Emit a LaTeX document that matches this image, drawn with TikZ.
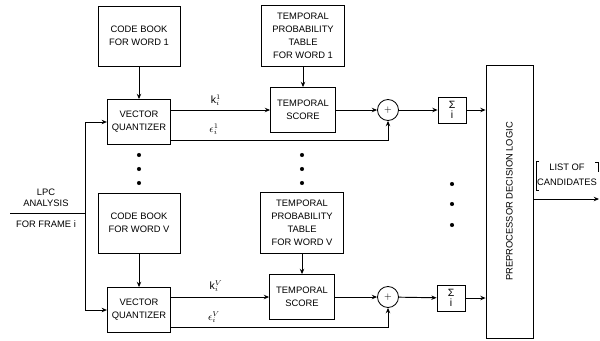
\documentclass[tikz,border=0pt]{standalone}
\usepackage{fontspec}
\setmainfont{Liberation Sans}
\usetikzlibrary{arrows.meta,positioning}

\begin{document}
\begin{tikzpicture}[x=0.03cm,y=-0.03cm,
  font=\fontsize{8}{11}\selectfont,
  >={Stealth[length=4.5pt,width=3.8pt]},
  line width=0.8pt,
  box/.style={draw,line width=0.7pt,inner sep=0pt,align=center},
  cbook/.style={box,minimum width=2.46cm,minimum height=1.8cm},
  quant/.style={box,minimum width=1.9cm,minimum height=1.35cm},
  tptab/.style={box,minimum width=2.49cm,minimum height=1.83cm},
  tscore/.style={box,minimum width=1.95cm,minimum height=1.35cm},
  adder/.style={draw,line width=0.7pt,circle,minimum size=0.63cm,inner sep=0pt},
  sumbox/.style={box,minimum width=0.84cm,minimum height=0.78cm,
                 font=\fontsize{9}{9}\selectfont},
  lbl/.style={inner sep=1pt,font=\fontsize{9}{10}\selectfont},
  dot/.style={circle,fill,inner sep=0pt,minimum size=3.5pt}]

  \useasboundingbox (0,0) rectangle (600,340);

  % word 1 branch
  \node (cb1) [cbook] at (139,36) {CODE BOOK\\FOR WORD 1};
  \node (vq1) [quant] at (139,122) {VECTOR\\QUANTIZER};
  \node (tp1) [tptab] at (303,36)
    {TEMPORAL\\PROBABILITY\\TABLE\\FOR WORD 1};
  \node (ts1) [tscore] at (303,110) {TEMPORAL\\SCORE};
  \node (ad1) [adder] at (388,110) {$+$};
  \node (sg1) [sumbox] at (452,110) {Σ\\i};

  % word V branch
  \node (cbV) [cbook] at (139,223) {CODE BOOK\\FOR WORD V};
  \node (vqV) [quant] at (139,310) {VECTOR\\QUANTIZER};
  \node (tpV) [tptab] at (302,223)
    {TEMPORAL\\PROBABILITY\\TABLE\\FOR WORD V};
  \node (tsV) [tscore] at (302,297) {TEMPORAL\\SCORE};
  \node (adV) [adder] at (388,297) {$+$};
  \node (sgV) [sumbox] at (451,298) {Σ\\i};

  % decision logic
  \node (pp) [box,rotate=90,minimum width=8.19cm,minimum height=1.41cm]
    at (509.5,201.5) {PREPROCESSOR DECISION LOGIC};

  % input
  \node (lpc) [align=center,font=\fontsize{8}{9}\selectfont] at (46,198)
    {LPC\\ANALYSIS};
  \node (frm) at (46,224) {FOR FRAME i};
  \coordinate (in) at (10,213);
  \coordinate (jn) at (85,213);
  \draw (in) -- (jn);
  \draw[->] (jn) |- (vq1.west);
  \draw[->] (jn) |- (vqV.west);

  % connectors
  \foreach \w in {1,V}{
    \draw[->] (cb\w) -- (vq\w);
    \draw[->] (tp\w) -- (ts\w);
    \draw[->] (vq\w.east |- ts\w) -- (ts\w.west);
    \draw[->] (ts\w) -- (ad\w);
    \draw[->] (ad\w) -- (sg\w);
    \draw[->] (sg\w) -- (sg\w -| pp.north);
  }
  \draw[->] ([yshift=-0.54cm]vq1.east) -| (ad1.south);
  \draw[->] ([yshift=-0.51cm]vqV.east) -| (adV.south);

  % labels
  \node (lk1) [lbl] at (216,100) {k$_i^1$};
  \node (le1) [lbl] at (214,129) {$\epsilon_i^1$};
  \node (lkV) [lbl] at (216,286) {k$_i^V$};
  \node (leV) [lbl] at (214,317) {$\epsilon_i^V$};

  % dots
  \foreach \y in {155,169,183}{
    \node[dot] at (139,\y) {};
    \node[dot] at (302,\y) {};
  }
  \foreach \y in {184,204,225}
    \node[dot] at (452,\y) {};

  % output
  \node (loc) [align=center,font=\fontsize{8}{13}\selectfont] at (567,175)
    {LIST OF\\CANDIDATES};
  \draw[line width=0.6pt] (539,161) -- (536,161) -- (536,190) -- (539,190);
  \draw[line width=0.6pt] (595,162) -- (598,162) -- (598,172);
  \coordinate (out) at (599,199);
  \draw[->] (pp.south |- out) -- (out);
\end{tikzpicture}
\end{document}
